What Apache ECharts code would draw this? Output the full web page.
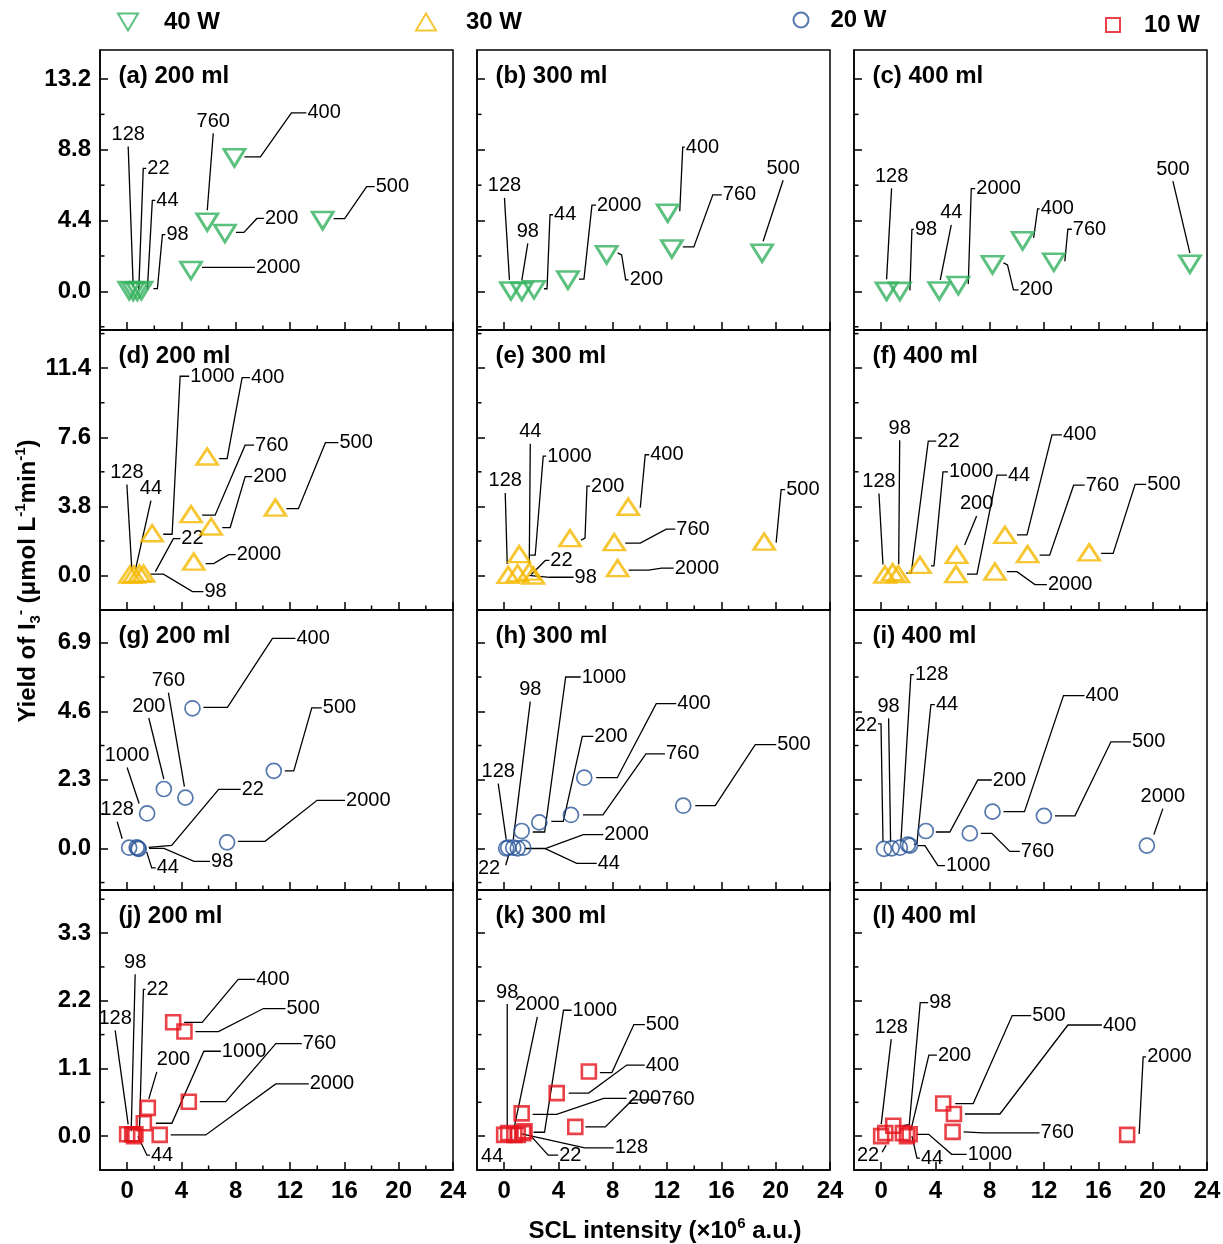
<!DOCTYPE html>
<html><head><meta charset="utf-8">
<script src="https://cdn.jsdelivr.net/npm/echarts@6/dist/echarts.min.js"></script>
<style>html,body{margin:0;padding:0;background:#fff}#c{width:1223px;height:1244px}</style>
</head><body><div id="c"></div>
<script>
// ---------------- DATA ----------------
const X_RANGE = [-2, 24];
const X_MAJOR = [0, 4, 8, 12, 16, 20, 24];
const X_MINOR = [2, 6, 10, 14, 18, 22];
const ROW_RANGE = [[-2.4, 15], [-1.9, 13.5], [-1.4, 8.0], [-0.55, 4.0]];
const Y_MAJOR = [[0, 4.4, 8.8, 13.2], [0, 3.8, 7.6, 11.4], [0, 2.3, 4.6, 6.9], [0, 1.1, 2.2, 3.3]];
const Y_MINOR = [[-2.2, 2.2, 6.6, 11.0], [1.9, 5.7, 9.5, 13.3], [-1.15, 1.15, 3.45, 5.75], [0.55, 1.65, 2.75, 3.85]];
const SERIES_NAMES = ['40 W', '30 W', '20 W', '10 W'];
const TITLES = ['(a) 200 ml','(b) 300 ml','(c) 400 ml','(d) 200 ml','(e) 300 ml','(f) 400 ml','(g) 200 ml','(h) 300 ml','(i) 400 ml','(j) 200 ml','(k) 300 ml','(l) 400 ml'];

// (a) 40 W, 200 ml
const A_LBL = ['128','22','44','98','760','200','400','500','2000'];
const A_X = [0.15, 0.45, 0.75, 1.05, 5.9, 7.2, 7.9, 14.4, 4.7];
const A_Y = [0.05, 0.0, 0.0, 0.05, 4.3, 3.6, 8.3, 4.4, 1.3];
// (b) 40 W, 300 ml
const B_LBL = ['128','98','44','2000','200','400','760','500'];
const B_X = [0.5, 1.3, 2.2, 4.7, 7.55, 12.05, 12.35, 19.0];
const B_Y = [0.03, 0.0, 0.1, 0.7, 2.27, 4.86, 2.64, 2.37];
// (c) 40 W, 400 ml
const C_LBL = ['128','98','44','2000','200','400','760','500'];
const C_X = [0.4, 1.38, 4.28, 5.68, 8.2, 10.42, 12.72, 22.74];
const C_Y = [0.0, 0.0, 0.03, 0.36, 1.65, 3.14, 1.81, 1.69];
// (d) 30 W, 200 ml
const D_LBL = ['128','44','1000','22','98','760','400','200','2000','500'];
const D_X = [0.2, 0.5, 1.84, 0.9, 1.2, 4.71, 5.89, 6.19, 4.9, 10.92];
const D_Y = [0.05, 0.05, 2.32, 0.1, 0.1, 3.37, 6.54, 2.69, 0.76, 3.73];
// (e) 30 W, 300 ml
const E_LBL = ['128','98','1000','44','22','200','400','760','2000','500'];
const E_X = [0.3, 0.99, 1.11, 1.85, 2.15, 4.85, 9.14, 8.11, 8.36, 19.15];
const E_Y = [0.03, 0.12, 1.17, 0.21, 0.0, 2.05, 3.78, 1.83, 0.4, 1.86];
// (f) 30 W, 400 ml
const F_LBL = ['128','98','22','1000','200','44','2000','400','760','500'];
const F_X = [0.28, 0.85, 1.26, 2.86, 5.56, 5.51, 8.38, 9.12, 10.79, 15.32];
const F_Y = [0.05, 0.18, 0.07, 0.58, 1.13, 0.07, 0.21, 2.23, 1.17, 1.27];
// (g) 20 W, 200 ml
const G_LBL = ['128','22','98','44','1000','200','760','400','500','2000'];
const G_X = [0.15, 0.7, 0.8, 0.85, 1.47, 2.7, 4.29, 4.81, 10.8, 7.36];
const G_Y = [0.02, 0.03, 0.0, -0.02, 1.17, 1.99, 1.7, 4.7, 2.6, 0.2];
// (h) 20 W, 300 ml
const H_LBL = ['22','128','98','44','2000','1000','200','760','400','500'];
const H_X = [0.15, 0.3, 0.67, 1.0, 1.41, 1.29, 2.59, 4.92, 5.9, 13.19];
const H_Y = [0.0, 0.02, 0.02, 0.0, 0.02, 0.58, 0.87, 1.12, 2.37, 1.43];
// (i) 20 W, 400 ml
const I_LBL = ['22','98','128','44','1000','200','760','400','500','2000'];
const I_X = [0.21, 0.77, 1.38, 1.97, 2.12, 3.29, 6.53, 8.2, 11.99, 19.57];
const I_Y = [-0.02, 0.0, 0.02, 0.12, 0.09, 0.58, 0.5, 1.23, 1.09, 0.09];
// (j) 10 W, 200 ml
const J_LBL = ['128','98','22','44','200','1000','400','500','760','2000'];
const J_X = [0.0, 0.37, 0.61, 0.5, 1.52, 1.23, 3.39, 4.22, 4.54, 2.4];
const J_Y = [0.03, 0.03, 0.03, 0.0, 0.46, 0.21, 1.85, 1.7, 0.56, 0.02];
// (k) 10 W, 300 ml
const K_LBL = ['44','98','2000','128','22','1000','200','760','400','500'];
const K_X = [0.0, 0.3, 0.75, 1.0, 1.4, 1.5, 1.29, 5.24, 3.87, 6.24];
const K_Y = [0.02, 0.05, 0.02, 0.02, 0.05, 0.08, 0.37, 0.15, 0.7, 1.05];
// (l) 10 W, 400 ml
const L_LBL = ['22','128','98','200','44','1000','500','400','760','2000'];
const L_X = [0.0, 0.3, 0.89, 1.6, 1.9, 2.1, 4.57, 5.36, 5.26, 18.12];
const L_Y = [0.0, 0.05, 0.17, 0.05, 0.0, 0.03, 0.53, 0.36, 0.07, 0.02];

// ---------------- LABEL LEADER LAYOUT (pixel offsets from each point) ----------------
const L = (...p) => ({m: 'L', p});
const B = (...p) => ({m: 'B', p});
const R = (t, ...p) => ({m: 'R', p, t});
const LT = (t, ...p) => ({m: 'L', p, t});
const C = (t) => ({m: 'C', p: [], t});

const A_LEAD = [B(4,-4,-1,-144), L(5.5,-1.5,10,-123,13,-123), L(10,-1.5,15,-91,18,-91), L(12,-2,16,-2,21,-56,24,-56), B(0,-12,6,-89), L(11,-1,19,-1,32,-15,39,-15), L(10,-1,26,-1,57,-45,72,-45), L(11,-2,22,-2,44,-34,52,-34), L(11,-3,64,-3)];
const B_LEAD = [B(-1.5,-11,-6.5,-93), B(0,-11,6,-48), L(10,-1,13,-1,16,-75,19,-75), L(11,-1,16,-1,24,-75,28,-75), L(11,-2,15,0,19,25,22,25), L(12,-2,15,-66,17,-66), L(11,-2,22,-2,41,-54,50,-54), B(1,-12,21,-73)];
const C_LEAD = [B(0,-12,5,-103), L(10,-1,12,-62,14,-62), B(1,-11,12,-66), L(10,-1.5,13,-97,17,-97), L(11,-2,15,0,21,25,26,25), L(11,-3,15,-32,17,-32), L(11,-1,14,-33,18,-33), B(0,-11,-17,-83)];
const D_LEAD = [B(2,-4,-3,-90), B(1.5,-5,17,-74), L(11,1,20,1,28,-157,37,-157), L(16,-2,34,-35,41,-35), L(7,0.5,20,0.5,49,18,60,18), L(11,1,24,1,54,-69,63,-69), L(12,2,20,2,35,-79,43,-79), L(11,1,19,1,34,-50,41,-50), L(12,2,20,2,35,-7,42,-7), L(11,1,23,1,50,-65,63,-65)];
const E_LEAD = [B(-1,-11,-3,-82), L(11,2,32,4,56,4), L(11,1,16,1,24,-98,27,-98), B(0,-8,1,-128), L(-2,-1,12,-15,16,-15), L(11,2,15,0,17,-52,20,-52), L(12,1,17,-52,21,-52), L(11,1,26,1,52,-13,61,-13), L(11,2,31,2,44,0,56,0), L(12,1,17,-52,21,-52)];
const F_LEAD = [B(-2,-10,-6,-81), B(6,-8,7,-132), L(8,-1,13,-1,30,-133,38,-133), L(11,1,14,1,23,-93,28,-93), B(8,-10,20,-39), L(11,0,21,0,41,-99,51,-99), L(12,0,22,0,40,13,52,13), L(12,0,22,0,47,-100,57,-100), L(12,1,22,1,46,-69,57,-69), L(12,1,24,1,46,-68,57,-68)];
const G_LEAD = [B(-7,-9,-12,-26), L(12,0,35,-2,82,-58,104,-58), L(11,0,26,0,56,13,72,13), L(8,3,13,19,17,19), B(-8,-10,-20,-46), B(0,-10,-15,-71), B(-1,-11,-17,-105), L(11,-1,35,-1,80,-70,103,-70), L(11,0,20,0,38,-63,48,-63), L(11,-1,38,-1,90,-42,118,-42)];
const H_LEAD = [R([-6,20],3,5,-0.5,17), B(-2,-8,-10,-64), B(0,-8,17,-146), L(7,0,27,0,59,15,79,15), L(2,1,22,1,60,-13,80,-13), L(11,1,23,1,44,-154,59,-154), L(12,-1,24,-1,43,-86,54,-86), L(12,0,32,0,75,-61,94,-61), L(12,0,33,0,72,-74,92,-74), L(12,0,32,0,72,-61,93,-61)];
const I_LEAD = [R([-7,-123],-1,-7,-3,-125,-6,-125), B(-1,-6,-3,-130), L(1,-6,11,-173,14,-173), L(6,0,9,-1,23,-140,27,-140), L(8,0,15,0,28,20,35,20), L(10,1,24,1,52,-51,66,-51), L(11,0,22,0,40,18,50,18), L(11,0,32,0,71,-116,92,-116), L(11,0,31,0,67,-74,87,-74), B(7,-11,16,-37)];
const J_LEAD = [B(1,-10,-12,-104), B(-1,-3,3,-160), L(4,-3,8,-145,10,-145), L(4,0,13,19,16,19), LT([9,-48],1,-9,9,-36), L(12,0,28,0,60,-72,77,-72), L(11,0,29,0,65,-43,82,-43), L(11,0,34,0,79,-23,101,-23), L(11,0,37,0,87,-58,113,-58), L(11,0,46,0,116,-51,149,-51)];
const K_LEAD = [C([-12,22]), B(-1,-5,-1,-129), B(0,-8,23,-118), L(4,-1,67,13,96,13), L(7,2,25,22,35,22), L(9,1,20,1,39,-121,47,-121), L(11,1,35,1,82,-15,105,-15), L(10,0,30,0,57,-27,85,-27), L(12,0,32,0,70,-28,88,-28), L(11,1,23,1,45,-47,56,-47)];
const L_LEAD = [R([-2,19],5,9,1,16), B(-4,-9,6,-94), L(10,0,16,-1,27,-123,35,-123), L(8,-3,26,-78,34,-78), L(5,0,10,22,13,22), L(7,0,19,0,42,20,57,20), L(12,0,30,0,69,-88,88,-88), L(11,0,46,0,114,-89,148,-89), L(11,0,31,1,87,1), L(12,-1,16,-78,19,-78)];

// ---------------- STYLE / LAYOUT ----------------
const FONT = "'Liberation Sans', Arial, Helvetica, sans-serif";
const COL_LEFT = [100, 477, 854], ROW_TOP = [50, 330, 610, 890], GW = 353, GH = 280;
const ROW_STYLE = [
  {symbol: 'triangle', rotate: 180, size: [21, 17], color: '#33b25e', bw: 2.8, icon: 'path://M0,0L20,0L10,17Z'},
  {symbol: 'triangle', rotate: 0, size: [21, 16], color: '#f5b800', bw: 2.7, icon: 'triangle'},
  {symbol: 'circle', rotate: 0, size: 15, color: '#2a5699', bw: 1.7, icon: 'circle'},
  {symbol: 'rect', rotate: 0, size: 14, color: '#e5131c', bw: 2.6, icon: 'rect'}
];
const LEG = [
  {cx: 127, cy: 22, w: 20, h: 17, pad: 21},
  {cx: 425, cy: 22, w: 20, h: 17, pad: 25},
  {cx: 800, cy: 20, w: 15, h: 15, pad: 17},
  {cx: 1112, cy: 25, w: 14, h: 14, pad: 19}
];
const MINOR_LEN = 4.5;

const PANELS = [
  [A_LBL, A_X, A_Y, A_LEAD], [B_LBL, B_X, B_Y, B_LEAD], [C_LBL, C_X, C_Y, C_LEAD],
  [D_LBL, D_X, D_Y, D_LEAD], [E_LBL, E_X, E_Y, E_LEAD], [F_LBL, F_X, F_Y, F_LEAD],
  [G_LBL, G_X, G_Y, G_LEAD], [H_LBL, H_X, H_Y, H_LEAD], [I_LBL, I_X, I_Y, I_LEAD],
  [J_LBL, J_X, J_Y, J_LEAD], [K_LBL, K_X, K_Y, K_LEAD], [L_LBL, L_X, L_Y, L_LEAD]
];

const grids = [], xAxes = [], yAxes = [], series = [], graphics = [];
const lineBlack = {color: '#000', width: 1.5};

function makeRender(lbl, lead) {
  return function (params, api) {
    const i = params.dataIndex;
    const c = api.coord([api.value(0), api.value(1)]);
    const ld = lead[i];
    const pts = [];
    for (let k = 0; k < ld.p.length; k += 2) pts.push([c[0] + ld.p[k], c[1] + ld.p[k + 1]]);
    const last = pts.length ? pts[pts.length - 1] : c;
    let tx, ty, align, va;
    if (ld.m === 'L') {
      if (ld.t) { tx = c[0] + ld.t[0]; ty = c[1] + ld.t[1]; } else { tx = last[0] + 1; ty = last[1]; }
      align = 'left'; va = 'middle';
    } else if (ld.m === 'B') {
      tx = last[0]; ty = last[1] - 2; align = 'center'; va = 'bottom';
    } else if (ld.m === 'R') {
      tx = c[0] + ld.t[0]; ty = c[1] + ld.t[1]; align = 'right'; va = 'middle';
    } else {
      tx = c[0] + ld.t[0]; ty = c[1] + ld.t[1]; align = 'center'; va = 'middle';
    }
    const children = [];
    if (pts.length > 1) children.push({type: 'polyline', silent: true, shape: {points: pts}, style: {stroke: '#000', lineWidth: 1.3, fill: 'none'}});
    children.push({type: 'text', silent: true, x: tx, y: ty, style: {text: lbl[i], fill: '#000', fontSize: 20, fontFamily: FONT, align: align, verticalAlign: va}});
    return {type: 'group', children: children};
  };
}

// minor ticks: drawn from the axis scales (x ticks along bottom edge, y ticks along left edge)
function minorRender(params, api) {
  const isX = api.value(2) === 0;
  const p = api.coord([api.value(0), api.value(1)]);
  const shape = isX ? {x1: p[0], y1: p[1], x2: p[0], y2: p[1] - MINOR_LEN} : {x1: p[0], y1: p[1], x2: p[0] + MINOR_LEN, y2: p[1]};
  return {type: 'line', silent: true, shape: shape, style: {stroke: '#000', lineWidth: 1.5}};
}

PANELS.forEach((pd, k) => {
  const [lbl, xs, ys, lead] = pd;
  const r = Math.floor(k / 3), c = k % 3;
  const st = ROW_STYLE[r];
  grids.push({left: COL_LEFT[c], top: ROW_TOP[r], width: GW, height: GH, show: true, borderColor: '#000', borderWidth: 1.5, backgroundColor: 'transparent', containLabel: false, outerBoundsMode: 'none'});
  xAxes.push({type: 'value', gridIndex: k, min: X_RANGE[0], max: X_RANGE[1], position: 'bottom',
    axisLine: {show: true, onZero: false, lineStyle: lineBlack},
    axisTick: {show: true, inside: true, length: 8, customValues: X_MAJOR, lineStyle: lineBlack},
    axisLabel: {show: r === 3, customValues: X_MAJOR, margin: 9, fontSize: 24, fontWeight: 'bold', color: '#000', fontFamily: FONT},
    splitLine: {show: false}});
  yAxes.push({type: 'value', gridIndex: k, min: ROW_RANGE[r][0], max: ROW_RANGE[r][1], position: 'left',
    axisLine: {show: true, onZero: false, lineStyle: lineBlack},
    axisTick: {show: true, inside: true, length: 8, customValues: Y_MAJOR[r], lineStyle: lineBlack},
    axisLabel: {show: c === 0, customValues: Y_MAJOR[r], formatter: v => Number(v).toFixed(1), margin: 9, fontSize: 24, fontWeight: 'bold', color: '#000', fontFamily: FONT},
    splitLine: {show: false}});
  const data = xs.map((v, i) => [v, ys[i]]);
  const minorData = X_MINOR.map(v => [v, ROW_RANGE[r][0], 0]).concat(Y_MINOR[r].map(v => [X_RANGE[0], v, 1]));
  series.push({type: 'custom', name: 'minor' + k, xAxisIndex: k, yAxisIndex: k, data: minorData, silent: true, z: 1, clip: false, renderItem: minorRender});
  series.push({type: 'custom', name: 'lbl' + k, xAxisIndex: k, yAxisIndex: k, data: data, silent: true, z: 2, clip: false, renderItem: makeRender(lbl, lead)});
  series.push({type: 'scatter', name: SERIES_NAMES[r], xAxisIndex: k, yAxisIndex: k, data: data, z: 4,
    symbol: st.symbol, symbolRotate: st.rotate, symbolSize: st.size,
    itemStyle: {color: 'rgba(0,0,0,0)', borderColor: st.color, borderWidth: st.bw},
    emphasis: {disabled: true}});
  graphics.push({type: 'text', x: COL_LEFT[c] + 18.5, y: ROW_TOP[r] + 26.5, silent: true,
    style: {text: TITLES[k], fill: '#000', fontSize: 24, fontWeight: 'bold', fontFamily: FONT, align: 'left', verticalAlign: 'middle'}});
});

const richBase = {
  a: {fontSize: 24, fontWeight: 'bold', fontFamily: FONT, lineHeight: 30, fill: '#000'},
  sp: {fontSize: 15, fontWeight: 'bold', fontFamily: FONT, lineHeight: 16, verticalAlign: 'top', fill: '#000'},
  sb: {fontSize: 15, fontWeight: 'bold', fontFamily: FONT, lineHeight: 16, verticalAlign: 'bottom', fill: '#000'}
};
graphics.push({type: 'text', x: 665, y: 1231, silent: true,
  style: {text: '{a|SCL intensity (×10}{sp|6}{a| a.u.)}', rich: richBase, align: 'center', verticalAlign: 'middle'}});
graphics.push({type: 'text', x: 28, y: 581, rotation: Math.PI / 2, silent: true,
  style: {text: '{a|Yield of I}{sb|3}{sp|-}{a| (μmol L}{sp|-1}{a|min}{sp|-1}{a|)}', rich: richBase, align: 'center', verticalAlign: 'middle'}});

const legends = SERIES_NAMES.map((n, i) => {
  const l = LEG[i], st = ROW_STYLE[i];
  return {data: [{name: n, icon: st.icon}], left: l.cx - l.w / 2, top: l.cy - 12, padding: 0, itemWidth: l.w, itemHeight: l.h, selectedMode: false,
    symbolRotate: 0,
    itemStyle: {color: 'rgba(0,0,0,0)', borderColor: st.color, borderWidth: 2},
    textStyle: {fontSize: 24, fontWeight: 'bold', color: '#000', fontFamily: FONT, padding: [0, 0, 0, l.pad]}};
});

const chart = echarts.init(document.getElementById('c'), null, {renderer: 'canvas'});
chart.setOption({
  animation: false,
  backgroundColor: '#fff',
  grid: grids,
  xAxis: xAxes,
  yAxis: yAxes,
  legend: legends,
  series: series,
  graphic: graphics
});
</script></body></html>
